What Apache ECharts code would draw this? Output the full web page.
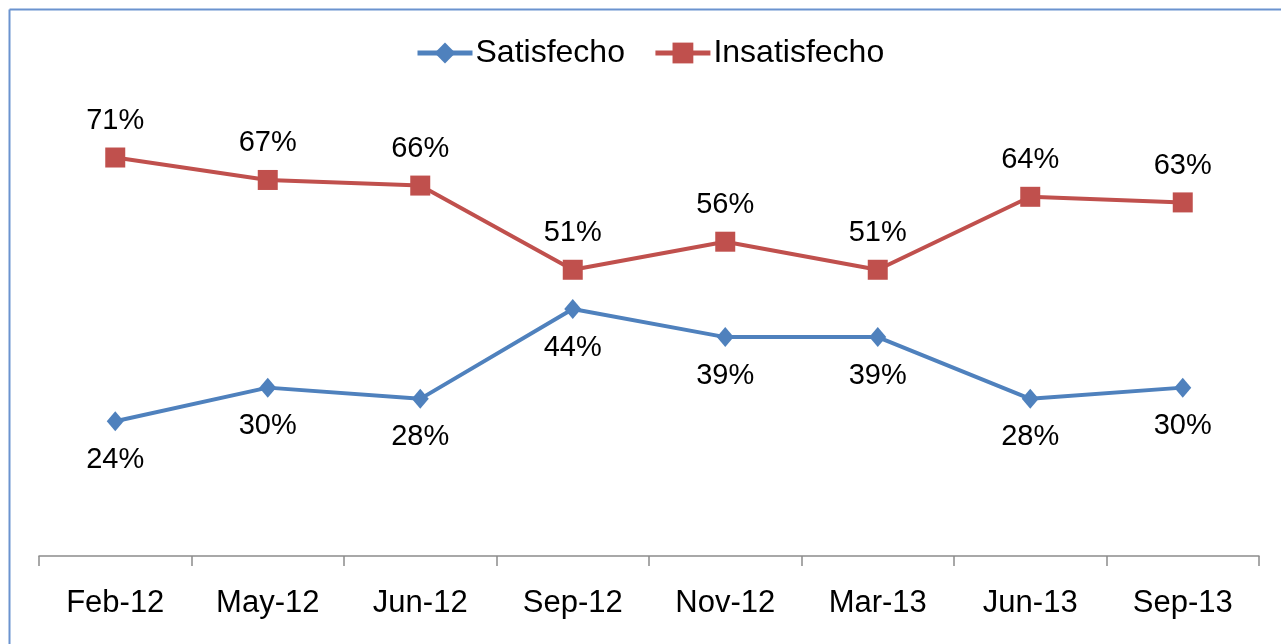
<!DOCTYPE html>
<html>
<head>
<meta charset="utf-8">
<script src="https://cdn.jsdelivr.net/npm/echarts@6/dist/echarts.min.js"></script>
<style>
  html, body { margin: 0; padding: 0; background: #fff; }
  #chart { width: 1281px; height: 644px; }
</style>
</head>
<body>
<div id="chart"></div>
<script>
// data
const months = ['Feb-12', 'May-12', 'Jun-12', 'Sep-12', 'Nov-12', 'Mar-13', 'Jun-13', 'Sep-13'];
const satisfecho = [24, 30, 28, 44, 39, 39, 28, 30];
const insatisfecho = [71, 67, 66, 51, 56, 51, 64, 63];

const font = 'Liberation Sans, Arial, sans-serif';

let chart = echarts.init(document.getElementById('chart'));
let option = {
  animation: false,
  textStyle: { fontFamily: font },
  graphic: [
    { type: 'line', shape: { x1: 9.5, y1: 9.5, x2: 1281, y2: 9.5 }, style: { stroke: '#6b93cf', lineWidth: 2 } },
    { type: 'line', shape: { x1: 9.5, y1: 9.5, x2: 9.5, y2: 644 }, style: { stroke: '#6b93cf', lineWidth: 2 } }
  ],
  legend: {
    top: 32,
    left: 410,
    itemWidth: 55,
    itemHeight: 26,
    itemGap: 28,
    lineStyle: { width: 5 },
    textStyle: { fontSize: 32, color: '#000', fontFamily: font, padding: [0, 0, 0, -2] },
    data: ['Satisfecho', 'Insatisfecho']
  },
  grid: { left: 39, right: 22, top: 107, bottom: 88 },
  xAxis: {
    type: 'category',
    data: months,
    boundaryGap: true,
    axisLine: { lineStyle: { color: '#8c8c8c', width: 1.5 } },
    axisTick: { show: true, length: 10, lineStyle: { color: '#8c8c8c', width: 1.5 } },
    axisLabel: { fontSize: 31, color: '#000', margin: 32, fontFamily: font }
  },
  yAxis: {
    type: 'value',
    min: 0,
    max: 80,
    show: false,
    splitLine: { show: false }
  },
  series: [
    {
      name: 'Satisfecho',
      type: 'line',
      data: satisfecho,
      symbol: 'diamond',
      symbolSize: [17, 20],
      itemStyle: { color: '#4f81bd' },
      lineStyle: { width: 4, color: '#4f81bd' },
      label: {
        show: true,
        position: 'bottom',
        distance: 14,
        fontSize: 29,
        color: '#000',
        fontFamily: font,
        formatter: p => p.value + '%'
      }
    },
    {
      name: 'Insatisfecho',
      type: 'line',
      data: insatisfecho,
      symbol: 'rect',
      symbolSize: 20,
      itemStyle: { color: '#c0504d' },
      lineStyle: { width: 4, color: '#c0504d' },
      label: {
        show: true,
        position: 'top',
        distance: 12,
        fontSize: 29,
        color: '#000',
        fontFamily: font,
        formatter: p => p.value + '%'
      }
    }
  ]
};
chart.setOption(option);
</script>
</body>
</html>
